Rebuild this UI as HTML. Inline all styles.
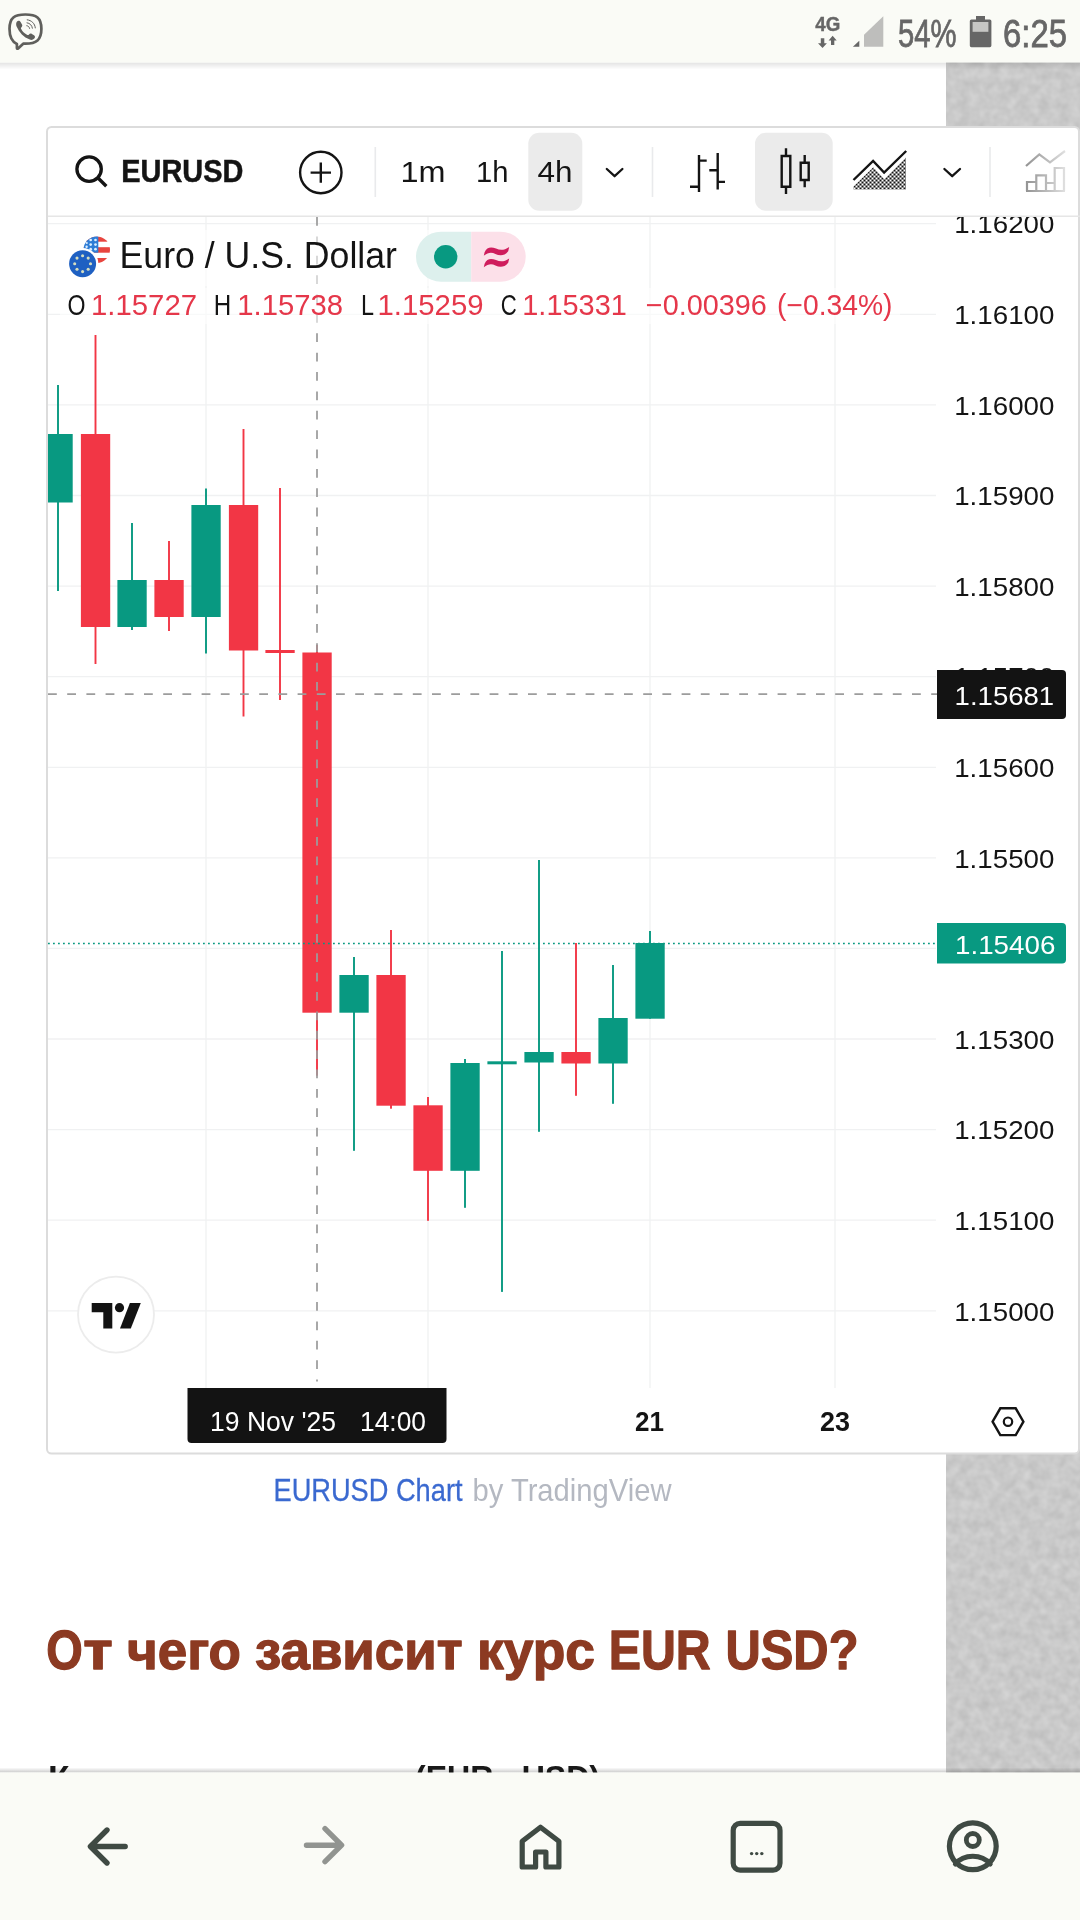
<!DOCTYPE html>
<html lang="ru">
<head>
<meta charset="utf-8">
<title>EURUSD Chart</title>
<style>
html,body{margin:0;padding:0;background:#fff;}
body{width:1080px;height:1920px;overflow:hidden;position:relative;font-family:"Liberation Sans",sans-serif;}
svg{position:absolute;left:0;top:0;display:block;will-change:transform;}
text{font-family:"Liberation Sans",sans-serif;}
.ax{font-size:26.6px;fill:#141414;}
.b{font-weight:bold;}
</style>
</head>
<body>
<svg width="1080" height="1920" viewBox="0 0 1080 1920">
<defs>
  <filter id="tex" x="0" y="0" width="100%" height="100%" color-interpolation-filters="sRGB">
    <feTurbulence type="fractalNoise" baseFrequency="0.1" numOctaves="2" seed="7" result="n"/>
    <feColorMatrix in="n" type="matrix" values="0.12 0 0 0 0.729  0.12 0 0 0 0.729  0.12 0 0 0 0.729  0 0 0 0 1"/>
    <feComposite operator="in" in2="SourceGraphic"/>
  </filter>
  <linearGradient id="shTop" x1="0" y1="0" x2="0" y2="1">
    <stop offset="0" stop-color="#000" stop-opacity="0.11"/>
    <stop offset="1" stop-color="#000" stop-opacity="0"/>
  </linearGradient>
  <pattern id="dots" x="853.5" y="149.5" width="4" height="4" patternUnits="userSpaceOnUse"><rect x="0" y="0" width="2" height="2" fill="#141414"/><rect x="2" y="2" width="2" height="2" fill="#141414"/></pattern>
  <linearGradient id="gfade" gradientUnits="userSpaceOnUse" x1="1024" y1="0" x2="1068" y2="0"><stop offset="0" stop-color="#909090"/><stop offset="0.55" stop-color="#bdbdbd"/><stop offset="1" stop-color="#e6e6e6"/></linearGradient>
  <linearGradient id="fadeR" x1="0" y1="0" x2="1" y2="0"><stop offset="0" stop-color="#fff" stop-opacity="0"/><stop offset="1" stop-color="#fff" stop-opacity="0.45"/></linearGradient>
  <linearGradient id="shBot" x1="0" y1="0" x2="0" y2="1"><stop offset="0" stop-color="#000" stop-opacity="0"/><stop offset="1" stop-color="#000" stop-opacity="0.2"/></linearGradient>
  <clipPath id="axclip"><rect x="937" y="217" width="143" height="1171"/></clipPath>
  <clipPath id="plot"><rect x="48" y="217" width="889" height="1171"/></clipPath>
</defs>

<!-- page background -->
<rect x="0" y="0" width="1080" height="1920" fill="#ffffff"/>

<!-- right textured strip -->
<rect x="946" y="62" width="134" height="1711" fill="#c9c9c9"/>
<rect x="946" y="62" width="134" height="1711" fill="#d6d6d6" filter="url(#tex)"/>

<!-- ===== SECTION: article text under chart ===== -->
<g id="article">
<text x="273.5" y="1501" font-size="32" fill="#3a69d0" stroke="#3a69d0" stroke-width="0.3" textLength="189" lengthAdjust="spacingAndGlyphs">EURUSD Chart</text>
<text x="472.5" y="1501" font-size="32" fill="#b4b8c1" textLength="199" lengthAdjust="spacingAndGlyphs">by TradingView</text>
<g class="b" font-size="53.4" fill="#8c3a22" stroke="#8c3a22" stroke-width="1.3" stroke-linejoin="round">
  <text x="46.3" y="1669.3"><tspan font-size="54.8" textLength="36.5" lengthAdjust="spacingAndGlyphs">О</tspan><tspan x="83.3" textLength="29.5" lengthAdjust="spacingAndGlyphs">т</tspan></text>
  <text x="127" y="1669.3" textLength="114" lengthAdjust="spacingAndGlyphs">чего</text>
  <text x="255" y="1669.3" textLength="207.5" lengthAdjust="spacingAndGlyphs">зависит</text>
  <text x="477" y="1669.3" textLength="118" lengthAdjust="spacingAndGlyphs">курс</text>
  <text x="608.7" y="1669.3" font-size="54.8" textLength="102" lengthAdjust="spacingAndGlyphs">EUR</text>
  <text x="725.5" y="1669.3" font-size="54.8" textLength="133" lengthAdjust="spacingAndGlyphs">USD?</text>
</g>
<text class="b" x="48" y="1789.4" font-size="33" fill="#1a1a1a"><tspan textLength="21.5" lengthAdjust="spacingAndGlyphs">К</tspan><tspan x="70.5" dy="1.2" textLength="333" lengthAdjust="spacingAndGlyphs">урс евро к доллару</tspan><tspan> </tspan><tspan x="415" dy="-1.2" textLength="185" lengthAdjust="spacingAndGlyphs">(EUR - USD)</tspan></text>
</g>

<!-- ===== SECTION: chart widget ===== -->
<g id="widget">
  <rect x="47" y="127" width="1032" height="1326.5" rx="4.5" fill="#ffffff" stroke="#dcdcdc" stroke-width="2"/>
<!--CHART-START-->
<rect x="48" y="215.5" width="1032" height="1.5" fill="#e6e6e6"/>
<g stroke="#f0f1f2" stroke-width="1.3" fill="none">
<path d="M48 223.7 H936"/>
<path d="M48 314.3 H936"/>
<path d="M48 404.9 H936"/>
<path d="M48 495.5 H936"/>
<path d="M48 586.1 H936"/>
<path d="M48 676.7 H936"/>
<path d="M48 767.3 H936"/>
<path d="M48 857.8 H936"/>
<path d="M48 948.4 H936"/>
<path d="M48 1039.0 H936"/>
<path d="M48 1129.6 H936"/>
<path d="M48 1220.2 H936"/>
<path d="M48 1310.8 H936"/>
<path d="M206 217 V1388"/>
<path d="M428 217 V1388"/>
<path d="M650 217 V1388"/>
<path d="M835 217 V1388"/>
</g>
<g clip-path="url(#plot)">
<rect x="57.05" y="385" width="1.9" height="206" fill="#089981"/>
<rect x="43.4" y="434" width="29.3" height="68.5" fill="#089981"/>
<rect x="94.55" y="335" width="1.9" height="329" fill="#f23645"/>
<rect x="80.9" y="434" width="29.3" height="193" fill="#f23645"/>
<rect x="131.05" y="523" width="1.9" height="107" fill="#089981"/>
<rect x="117.4" y="580" width="29.3" height="47" fill="#089981"/>
<rect x="168.05" y="541" width="1.9" height="90" fill="#f23645"/>
<rect x="154.4" y="580" width="29.3" height="37" fill="#f23645"/>
<rect x="205.05" y="488.5" width="1.9" height="165.0" fill="#089981"/>
<rect x="191.4" y="505" width="29.3" height="112" fill="#089981"/>
<rect x="242.55" y="429" width="1.9" height="287.5" fill="#f23645"/>
<rect x="228.9" y="505" width="29.3" height="145.5" fill="#f23645"/>
<rect x="279.05" y="488" width="1.9" height="212" fill="#f23645"/>
<rect x="265.4" y="650" width="29.3" height="3" fill="#f23645"/>
<rect x="316.05" y="645" width="1.9" height="430.70000000000005" fill="#f23645"/>
<rect x="302.4" y="652.5" width="29.3" height="360.20000000000005" fill="#f23645"/>
<rect x="353.05" y="957" width="1.9" height="193.79999999999995" fill="#089981"/>
<rect x="339.4" y="975" width="29.3" height="37.700000000000045" fill="#089981"/>
<rect x="390.05" y="930" width="1.9" height="178.70000000000005" fill="#f23645"/>
<rect x="376.4" y="975" width="29.3" height="130.70000000000005" fill="#f23645"/>
<rect x="427.05" y="1097" width="1.9" height="123.79999999999995" fill="#f23645"/>
<rect x="413.4" y="1105.3" width="29.3" height="65.5" fill="#f23645"/>
<rect x="464.05" y="1059" width="1.9" height="148.79999999999995" fill="#089981"/>
<rect x="450.4" y="1063" width="29.3" height="107.79999999999995" fill="#089981"/>
<rect x="501.05" y="951" width="1.9" height="340.9000000000001" fill="#089981"/>
<rect x="487.4" y="1061.3" width="29.3" height="3.0" fill="#089981"/>
<rect x="538.05" y="860" width="1.9" height="271.79999999999995" fill="#089981"/>
<rect x="524.4" y="1052" width="29.3" height="10.5" fill="#089981"/>
<rect x="575.05" y="943" width="1.9" height="152.79999999999995" fill="#f23645"/>
<rect x="561.4" y="1052" width="29.3" height="11.5" fill="#f23645"/>
<rect x="612.05" y="965" width="1.9" height="138.79999999999995" fill="#089981"/>
<rect x="598.4" y="1018" width="29.3" height="45.5" fill="#089981"/>
<rect x="649.05" y="931" width="1.9" height="87.70000000000005" fill="#089981"/>
<rect x="635.4" y="943" width="29.3" height="75.70000000000005" fill="#089981"/>
</g>
<path d="M48 943.5 H937" stroke="#089981" stroke-width="1.5" stroke-dasharray="1.8 3.2" fill="none"/>
<path d="M48 694.2 H937" stroke="#9c9c9c" stroke-width="1.75" stroke-dasharray="8.8 10.4" fill="none"/>
<path d="M317 217 V1381.5" stroke="#9c9c9c" stroke-width="1.75" stroke-dasharray="8.8 10.575" fill="none"/>
<g class="ax">
<g clip-path="url(#axclip)">
<text x="954.2" y="233.4" textLength="100.2" lengthAdjust="spacingAndGlyphs">1.16200</text>
<text x="954.2" y="324.0" textLength="100.2" lengthAdjust="spacingAndGlyphs">1.16100</text>
<text x="954.2" y="414.6" textLength="100.2" lengthAdjust="spacingAndGlyphs">1.16000</text>
<text x="954.2" y="505.2" textLength="100.2" lengthAdjust="spacingAndGlyphs">1.15900</text>
<text x="954.2" y="595.8" textLength="100.2" lengthAdjust="spacingAndGlyphs">1.15800</text>
<text x="954.2" y="686.4" textLength="100.2" lengthAdjust="spacingAndGlyphs">1.15700</text>
<text x="954.2" y="777.0" textLength="100.2" lengthAdjust="spacingAndGlyphs">1.15600</text>
<text x="954.2" y="867.5" textLength="100.2" lengthAdjust="spacingAndGlyphs">1.15500</text>
<text x="954.2" y="1048.7" textLength="100.2" lengthAdjust="spacingAndGlyphs">1.15300</text>
<text x="954.2" y="1139.3" textLength="100.2" lengthAdjust="spacingAndGlyphs">1.15200</text>
<text x="954.2" y="1229.9" textLength="100.2" lengthAdjust="spacingAndGlyphs">1.15100</text>
<text x="954.2" y="1320.5" textLength="100.2" lengthAdjust="spacingAndGlyphs">1.15000</text>
</g>
<path d="M937 670 H1062 a4 4 0 0 1 4 4 V715 a4 4 0 0 1 -4 4 H937 Z" fill="#131313"/>
<text x="954.6" y="704.5" textLength="99.6" lengthAdjust="spacingAndGlyphs" fill="#fff">1.15681</text>
<path d="M937 923 H1062 a4 4 0 0 1 4 4 V959.5 a4 4 0 0 1 -4 4 H937 Z" fill="#089981"/>
<text x="955" y="953.5" textLength="100.4" lengthAdjust="spacingAndGlyphs" fill="#fff">1.15406</text>
</g>
<!--CHART-END-->
<!--TOOLBAR-START-->
<!-- toolbar -->
<g id="toolbar" fill="none" stroke="#141414" stroke-linecap="round" stroke-linejoin="round">
  <!-- search icon -->
  <circle cx="89.1" cy="169.1" r="12.2" stroke-width="3.3"/>
  <path d="M97.8 177.8 L106.3 186.3" stroke-width="3.4" stroke-linecap="butt"/>
  <!-- plus circle -->
  <circle cx="320.8" cy="172.5" r="20.7" stroke-width="2.4"/>
  <path d="M310.6 172.6 H331 M320.8 162.4 V182.8" stroke-width="2.4" stroke-linecap="butt"/>
  <!-- separators -->
  <path d="M375.3 147 V197 M652.5 147 V197 M990 147 V197" stroke="#e9eaec" stroke-width="1.6" stroke-linecap="butt"/>
  <!-- selected interval bg -->
  <rect x="528.3" y="132.7" width="54" height="78" rx="11" fill="#ebebeb" stroke="none"/>
  <!-- chevrons -->
  <path d="M606.8 169 L614.6 176.2 L622.4 169" stroke-width="2.3"/>
  <path d="M944.4 169 L952.2 176.2 L960 169" stroke-width="2.3"/>
  <!-- bars icon -->
  <path d="M699 155 V192 M690 186.7 H699 M699 160.6 H706.7 M717.7 152.9 V189.6 M709.3 170.3 H717.7 M717.7 181.9 H725" stroke-width="2.4" stroke-linecap="butt" stroke-linejoin="miter"/>
  <!-- candles icon (selected) -->
  <rect x="755" y="132.7" width="77.7" height="78" rx="11" fill="#ebebeb" stroke="none"/>
  <path d="M786 148.3 V156 M786 186.7 V194 M781.7 156 H790.3 V186.7 H781.7 Z M804.7 155 V162.7 M804.7 180 V187.3 M800.7 162.7 H808.7 V180 H800.7 Z" stroke-width="2.4" stroke-linecap="butt" stroke-linejoin="miter"/>
  <!-- area icon -->
  <path d="M853.5 189.5 V186.5 L873.3 167.2 L884.3 179.2 L906 157.5 V189.5 Z" fill="url(#dots)" stroke="none"/>
  <path d="M853.5 180 L873.1 161 L884.1 172.5 L906.2 151" stroke-width="2.4" stroke-linecap="butt" stroke-linejoin="miter"/>
  <!-- disabled indicator icon -->
  <g stroke="url(#gfade)" stroke-width="2.2" stroke-linecap="butt" stroke-linejoin="miter">
    <path d="M1026 166 L1039.3 154.3 L1050 162.3 L1065 151"/>
    <path d="M1027 191 V182 H1036.3 V191 M1036.3 191 V175.3 H1046 V191 M1046 191 V183 H1054.7 M1054.7 191 V168 H1064 V191 M1026 191 H1065"/>
  </g>
</g>
<!-- toolbar text -->
<text class="b" x="121.3" y="181.7" font-size="30.5" fill="#141414" stroke="#141414" stroke-width="0.5" textLength="122" lengthAdjust="spacingAndGlyphs">EURUSD</text>
<g font-size="30.3" fill="#141414">
  <text x="400.6" y="181.7" textLength="45" lengthAdjust="spacingAndGlyphs">1m</text>
  <text x="476" y="181.7" textLength="32.5" lengthAdjust="spacingAndGlyphs">1h</text>
  <text x="537.5" y="181.7" textLength="35" lengthAdjust="spacingAndGlyphs">4h</text>
</g>
<!-- legend -->
<g id="legend">
  <rect x="60" y="230" width="472" height="56" fill="#ffffff" opacity="0.55"/>
  <rect x="60" y="288" width="840" height="36" fill="#ffffff" opacity="0.55"/>
  <!-- flags -->
  <g>
    <clipPath id="usc"><circle cx="96.8" cy="249.7" r="13.2"/></clipPath>
    <g clip-path="url(#usc)">
      <rect x="83" y="236" width="28" height="28" fill="#ffffff"/>
      <rect x="83" y="236.4" width="28" height="5.3" fill="#e8453f"/>
      <rect x="83" y="247.2" width="28" height="5.5" fill="#e8453f"/>
      <rect x="83" y="258" width="28" height="5" fill="#e8453f"/>
      <rect x="83" y="236" width="15.3" height="16.7" fill="#2f7dd6"/>
      <g fill="#dcefff"><circle cx="90.7" cy="240" r="1.35"/><circle cx="90.7" cy="244.6" r="1.35"/><circle cx="90.7" cy="249.2" r="1.35"/><circle cx="95.5" cy="240" r="1.35"/><circle cx="95.5" cy="244.6" r="1.35"/><circle cx="95.5" cy="249.2" r="1.35"/><circle cx="86.6" cy="246.8" r="1.2"/><circle cx="86.8" cy="243" r="1"/></g>
    </g>
    <circle cx="82.6" cy="263.7" r="15.7" fill="#ffffff"/>
    <circle cx="82.6" cy="263.7" r="13.5" fill="#1f60c2"/>
    <g fill="#d6dec0"><circle cx="82.6" cy="255.8" r="1.55"/><circle cx="88.2" cy="258.1" r="1.55"/><circle cx="90.5" cy="263.7" r="1.55"/><circle cx="88.2" cy="269.3" r="1.55"/><circle cx="82.6" cy="271.6" r="1.55"/><circle cx="77.0" cy="269.3" r="1.55"/><circle cx="74.7" cy="263.7" r="1.55"/><circle cx="77.0" cy="258.1" r="1.55"/></g>
  </g>
  <text x="119.6" y="267.7" font-size="37.5" fill="#141414" textLength="277.4" lengthAdjust="spacingAndGlyphs">Euro / U.S. Dollar</text>
  <!-- status pill -->
  <path d="M441 231.7 H471.2 V281.7 H441 a25 25 0 0 1 0 -50 Z" fill="#ddf0ed"/>
  <path d="M471.2 231.7 H500.7 a25 25 0 0 1 0 50 H471.2 Z" fill="#fce0e9"/>
  <circle cx="445.7" cy="256.8" r="11.7" fill="#089981"/>
  <g fill="#cf1d5d">
    <path d="M484.6 252.2 C487 246.9 491.2 246.5 496 248.6 C500.2 250.4 504 250.6 509.2 247 L508.2 251.2 C504.2 256.2 499.6 255.9 495.4 253.9 C491.4 252 488 252.4 483.8 255.8 Z"/>
    <path d="M484.6 252.2 C487 246.9 491.2 246.5 496 248.6 C500.2 250.4 504 250.6 509.2 247 L508.2 251.2 C504.2 256.2 499.6 255.9 495.4 253.9 C491.4 252 488 252.4 483.8 255.8 Z" transform="translate(0 11.5)"/>
  </g>
  <!-- OHLC -->
  <g font-size="29" lengthAdjust="spacingAndGlyphs">
    <text x="67.5" y="314.6" fill="#141414" textLength="18" lengthAdjust="spacingAndGlyphs">O</text>
    <text x="91" y="314.6" fill="#e5374a" textLength="106" lengthAdjust="spacingAndGlyphs">1.15727</text>
    <text x="213.8" y="314.6" fill="#141414" textLength="17.5" lengthAdjust="spacingAndGlyphs">H</text>
    <text x="237.3" y="314.6" fill="#e5374a" textLength="105.7" lengthAdjust="spacingAndGlyphs">1.15738</text>
    <text x="361" y="314.6" fill="#141414" textLength="13" lengthAdjust="spacingAndGlyphs">L</text>
    <text x="377.5" y="314.6" fill="#e5374a" textLength="106" lengthAdjust="spacingAndGlyphs">1.15259</text>
    <text x="500.8" y="314.6" fill="#141414" textLength="16" lengthAdjust="spacingAndGlyphs">C</text>
    <text x="522.3" y="314.6" fill="#e5374a" textLength="104.5" lengthAdjust="spacingAndGlyphs">1.15331</text>
    <text x="645.8" y="314.6" fill="#e5374a" textLength="121" lengthAdjust="spacingAndGlyphs">−0.00396</text>
    <text x="777" y="314.6" fill="#e5374a" textLength="115.5" lengthAdjust="spacingAndGlyphs">(−0.34%)</text>
  </g>
</g>
<!--TOOLBAR-END-->
<!-- time axis -->
<g id="timeaxis">
  <path d="M187.5 1388 H446.5 V1439 a4 4 0 0 1 -4 4 H191.5 a4 4 0 0 1 -4 -4 Z" fill="#131313"/>
  <text x="210" y="1431" font-size="28.3" fill="#ffffff" textLength="126" lengthAdjust="spacingAndGlyphs">19 Nov '25</text>
  <text x="360" y="1431" font-size="28.3" fill="#ffffff" textLength="66" lengthAdjust="spacingAndGlyphs">14:00</text>
  <text class="b" x="635" y="1431" font-size="27.6" fill="#141414" textLength="29" lengthAdjust="spacingAndGlyphs">21</text>
  <text class="b" x="820" y="1431" font-size="27.6" fill="#141414" textLength="30" lengthAdjust="spacingAndGlyphs">23</text>
  <!-- settings hex -->
  <path d="M992.6 1421.7 L1000.3 1408.3 H1015.7 L1023.4 1421.7 L1015.7 1435.1 H1000.3 Z" fill="none" stroke="#141414" stroke-width="2.4" stroke-linejoin="miter"/>
  <circle cx="1008" cy="1421.7" r="4.2" fill="none" stroke="#141414" stroke-width="2.2"/>
</g>
<!-- TradingView logo -->
<g id="tvlogo">
  <circle cx="116" cy="1314.6" r="38" fill="#ffffff" stroke="#ececec" stroke-width="1.8"/>
  <path d="M91.7 1303 H112.3 V1328.4 H103.3 V1312.2 H91.7 Z" fill="#131313"/>
  <circle cx="119.5" cy="1307.7" r="4.6" fill="#131313"/>
  <path d="M129.9 1303 H140.8 L130.8 1328.4 H120 Z" fill="#131313"/>
</g>
</g>

<!-- ===== SECTION: status bar ===== -->
<g id="status">
  <rect x="0" y="62.5" width="1080" height="7" fill="url(#shTop)"/>
  <rect x="0" y="0" width="1080" height="62.5" fill="#fafbf6"/>

  <!-- viber icon -->
  <g fill="none" stroke="#5f5f5c" stroke-linecap="round" stroke-linejoin="round">
    <path d="M16.9 44 C11.2 41.4 9.5 36 9.5 28.8 C9.5 17.6 14.5 14.5 25.4 14.5 C36.3 14.5 41.4 17.6 41.4 28.8 C41.4 40 36.3 43.7 25.4 43.7 C24.6 43.7 23.9 43.7 23.2 43.65 L18.1 48.5 C17.5 49 16.9 48.7 16.9 48 Z" stroke-width="2.7"/>
    <path d="M27.2 19.8 C31.6 20.3 34.9 23.5 35.3 27.9" stroke-width="1"/>
    <path d="M27 22.8 C29.9 23.2 32 25.3 32.4 28.2" stroke-width="1"/>
    <path d="M26.8 25.7 C28.3 25.9 29.3 26.9 29.6 28.4" stroke-width="1"/>
  </g>
  <path d="M17 21.4 C18.3 20.1 19.8 20.6 20.6 22 L22 24.6 C22.6 25.8 22.2 26.7 21.3 27.4 C20.8 27.8 20.9 28.5 21.2 29.1 C22.6 31.8 24.6 33.7 27.4 34.9 C28 35.2 28.6 35.1 29 34.5 C29.8 33.4 30.8 33.2 31.9 33.9 L34 35.3 C35.3 36.2 35.3 37.6 34.3 38.6 C33 39.9 31.5 40.3 29.8 39.6 C23.6 37 19.2 32.6 16.6 26.4 C15.9 24.6 16 22.7 17 21.4 Z" fill="#5f5f5c"/>
  <!-- 4G -->
  <text class="b" x="815.3" y="30.9" font-size="19.3" fill="#666666" stroke="#666666" stroke-width="0.4" textLength="25" lengthAdjust="spacingAndGlyphs">4G</text>
  <path d="M820.8 38.2 H824.3 V43.2 H826.9 L822.55 47.9 L818 43.2 H820.8 Z M831 45.1 V40.4 H828.6 L832.65 35.8 L836.7 40.4 H834.3 V45.1 Z" fill="#666666"/>
  <!-- signal -->
  <path d="M852.9 46.8 H859.3 V40.8 Z" fill="#666666"/>
  <path d="M864 46.8 V34.7 L883.3 16.3 V46.8 Z" fill="#bebebc"/>
  <!-- battery text -->
  <text x="898" y="46.7" font-size="39.7" fill="#666666" stroke="#666666" stroke-width="0.8" textLength="58.5" lengthAdjust="spacingAndGlyphs">54%</text>
  <!-- battery -->
  <path d="M976 16 H985 V19.5 H989.8 a1.6 1.6 0 0 1 1.6 1.6 V45.6 a1.6 1.6 0 0 1 -1.6 1.6 H971.4 a1.6 1.6 0 0 1 -1.6 -1.6 V21.1 a1.6 1.6 0 0 1 1.6 -1.6 H976 Z" fill="#666666"/>
  <rect x="972.6" y="22" width="15.8" height="9.8" fill="#c6c6c4"/>
  <text x="1003" y="46.7" font-size="39.7" fill="#666666" stroke="#666666" stroke-width="0.8" textLength="64" lengthAdjust="spacingAndGlyphs">6:25</text>
</g>

<!-- ===== SECTION: bottom nav ===== -->
<g id="nav">
  <rect x="0" y="1767.5" width="1080" height="5" fill="url(#shBot)"/>
  <rect x="0" y="1772.5" width="1080" height="147.5" fill="#fafbf6"/>

  <g fill="none" stroke="#3f4a43" stroke-width="5.4" stroke-linecap="round" stroke-linejoin="round">
    <path d="M125.2 1846.5 H91 M107 1830 L90.4 1846.5 L107 1863"/>
    <path d="M306.5 1845.2 H341 M325 1828.7 L341.6 1845.2 L325 1861.7" stroke="#919490"/>
    <path d="M535.6 1867 H522.2 V1841.2 L540.5 1827.2 L558.9 1841.2 V1867 H545.9 V1852 H535.6 Z" stroke-width="5.2"/>
    <rect x="733.2" y="1823.4" width="46.8" height="46.8" rx="7" stroke-width="5.2"/>
    <circle cx="972.8" cy="1846.3" r="23.4" stroke-width="5.2"/>
    <circle cx="972.8" cy="1840" r="6.5" stroke-width="4.8"/>
    <path d="M955.4 1864 C960 1858.4 965.8 1856.3 972.8 1856.3 C979.8 1856.3 985.6 1858.4 990.2 1864" stroke-width="5"/>
  </g>
  <g fill="#3f4a43"><circle cx="751.6" cy="1853.6" r="1.7"/><circle cx="756.7" cy="1853.6" r="1.7"/><circle cx="761.8" cy="1853.6" r="1.7"/></g>
</g>
</svg>
</body>
</html>
